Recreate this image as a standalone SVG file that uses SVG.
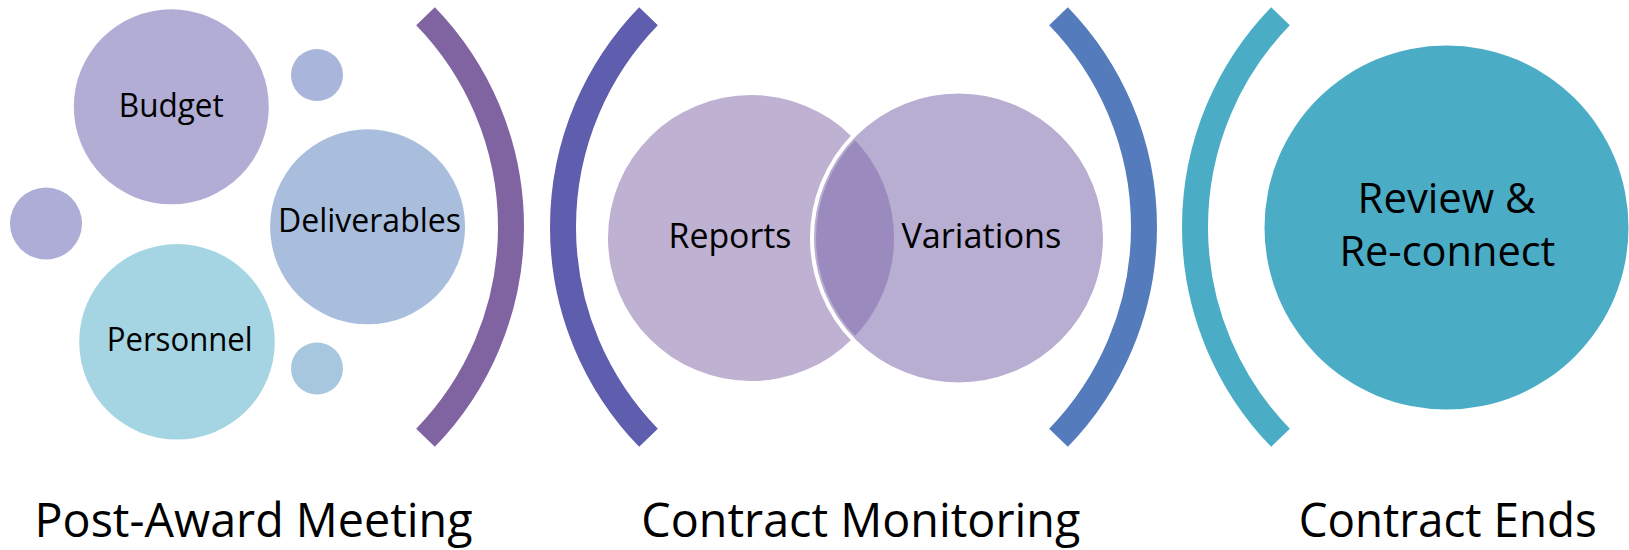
<svg xmlns="http://www.w3.org/2000/svg" width="1629" height="550" viewBox="0 0 1629 550">
  <style>
    .lbl { font-family: "Open Sans", "Noto Sans", "Liberation Sans", sans-serif; fill: #000000; text-anchor: middle; }
    .s1 { font-size: 32.5px; }
    .s2 { font-size: 35px; }
    .s3 { font-size: 41.5px; }
    .s4 { font-size: 47px; }
    .br { fill: none; stroke-width: 26; stroke-linecap: butt; }
  </style>
  <defs>
    <clipPath id="varClip">
      <circle cx="958.5" cy="238" r="142.5"/>
    </clipPath>
  </defs>
  <rect x="0" y="0" width="1629" height="550" fill="#ffffff"/>

  <g id="brackets">
    <path class="br" stroke="#8064A2" d="M 425.5 16.2 A 302.6 302.6 0 0 1 425.5 437.8"/>
    <path class="br" stroke="#5F5DAD" d="M 648.5 16.2 A 302.6 302.6 0 0 0 648.5 437.8"/>
    <path class="br" stroke="#547BBC" d="M 1058.5 16.2 A 302.6 302.6 0 0 1 1058.5 437.8"/>
    <path class="br" stroke="#4BACC6" d="M 1280.5 16.2 A 302.6 302.6 0 0 0 1280.5 437.8"/>
  </g>

  <g id="dot-top"><circle cx="317" cy="75" r="26" fill="#A9B5DA"/></g>
  <g id="dot-left"><circle cx="46" cy="223.5" r="36" fill="#ADADD8"/></g>
  <g id="dot-bottom"><circle cx="317" cy="368.5" r="26" fill="#A6C7DD"/></g>

  <g id="budget">
    <circle cx="171.3" cy="106.8" r="97.5" fill="#B1ADD5"/>
    <text class="lbl s1" x="171.3" y="116.5" textLength="105" lengthAdjust="spacingAndGlyphs">Budget</text>
  </g>
  <g id="deliverables">
    <circle cx="367.6" cy="226.8" r="97.5" fill="#A9BEDD"/>
    <text class="lbl s1" x="369.5" y="231.7" textLength="183" lengthAdjust="spacingAndGlyphs">Deliverables</text>
  </g>
  <g id="personnel">
    <circle cx="177" cy="341.8" r="97.8" fill="#A5D5E2"/>
    <text class="lbl s1" x="179.7" y="351" textLength="146" lengthAdjust="spacingAndGlyphs">Personnel</text>
  </g>

  <g id="reports">
    <circle cx="751" cy="238" r="143" fill="#BEB1D2"/>
    <text class="lbl s2" x="730" y="248.3" textLength="123" lengthAdjust="spacingAndGlyphs">Reports</text>
  </g>
  <g id="variations">
    <circle cx="958.5" cy="238" r="146.5" fill="#B8AED1" stroke="#ffffff" stroke-width="4"/>
    <circle cx="751" cy="238" r="143" fill="#9B8ABD" clip-path="url(#varClip)"/>
    <text class="lbl s2" x="981.4" y="248.3" textLength="160" lengthAdjust="spacingAndGlyphs">Variations</text>
  </g>

  <g id="review">
    <circle cx="1446.5" cy="227.5" r="182" fill="#4BACC6"/>
    <text class="lbl s3" x="1446.6" y="213.3" textLength="178" lengthAdjust="spacingAndGlyphs">Review &amp;</text>
    <text class="lbl s3" x="1447.4" y="265.5" textLength="216" lengthAdjust="spacingAndGlyphs">Re-connect</text>
  </g>

  <g id="stage-labels">
    <text class="lbl s4" x="253.5" y="537" textLength="438" lengthAdjust="spacingAndGlyphs">Post-Award Meeting</text>
    <text class="lbl s4" x="860.8" y="537" textLength="439" lengthAdjust="spacingAndGlyphs">Contract Monitoring</text>
    <text class="lbl s4" x="1447.7" y="537" textLength="298" lengthAdjust="spacingAndGlyphs">Contract Ends</text>
  </g>
</svg>
